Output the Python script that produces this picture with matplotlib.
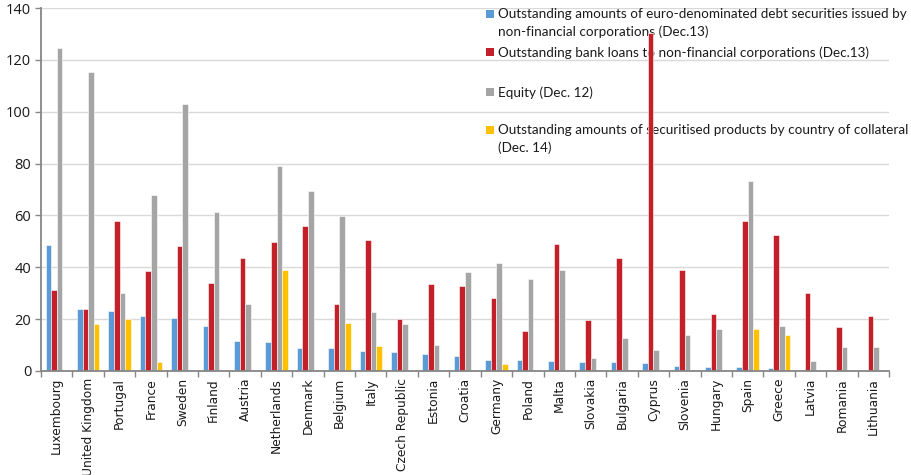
import matplotlib
matplotlib.use("Agg")
import matplotlib.pyplot as plt
import numpy as np
from matplotlib.patches import Rectangle

countries = ["Luxembourg", "United Kingdom", "Portugal", "France", "Sweden", "Finland",
             "Austria", "Netherlands", "Denmark", "Belgium", "Italy", "Czech Republic",
             "Estonia", "Croatia", "Germany", "Poland", "Malta", "Slovakia", "Bulgaria",
             "Cyprus", "Slovenia", "Hungary", "Spain", "Greece", "Latvia", "Romania",
             "Lithuania"]

debt_securities = [48.5, 23.8, 23.0, 21.4, 20.3, 17.5, 11.7, 11.3, 8.8, 8.8, 7.6, 7.2,
                   6.7, 5.8, 4.1, 4.1, 3.7, 3.3, 3.3, 3.0, 2.1, 1.7, 1.7, 1.2, 0.3, 0.3, 0.3]
bank_loans = [31.3, 23.8, 57.8, 38.5, 48.1, 33.8, 43.5, 49.7, 56.1, 26.0, 50.7, 20.1,
              33.5, 32.7, 28.1, 15.4, 48.9, 19.6, 43.5, 130.2, 38.9, 22.1, 57.8, 52.6,
              30.1, 17.1, 21.4]
equity = [124.7, 115.2, 30.1, 67.8, 103.0, 61.5, 26.0, 79.0, 69.5, 59.7, 22.9, 18.0,
          9.9, 38.1, 41.8, 35.5, 38.9, 4.9, 12.6, 8.0, 13.8, 16.3, 73.2, 17.5, 3.7, 9.1, 9.1]
securitised = [0, 18.0, 20.0, 3.3, 0, 0.4, 0.4, 38.9, 0, 18.4, 9.5, 0, 0, 0, 2.6, 0, 0,
               0, 0, 0, 0, 0, 16.3, 13.8, 0, 0, 0]

series_labels = [
    "Outstanding amounts of euro-denominated debt securities issued by\nnon-financial corporations (Dec.13)",
    "Outstanding bank loans to non-financial corporations (Dec.13)",
    "Equity (Dec. 12)",
    "Outstanding amounts of securitised products by country of collateral\n(Dec. 14)",
]
series_colors = ["#5b9bd5", "#c3202a", "#a5a5a5", "#ffc000"]
y_ticks = [0, 20, 40, 60, 80, 100, 120, 140]

W, H = 911, 475
fig = plt.figure(figsize=(W / 100, H / 100), dpi=100)
ax = fig.add_axes([41 / W, 1 - 371 / H, (889 - 41) / W, (371 - 8) / H])

axis_grey = "#868686"
x = np.arange(len(countries))
bw = 0.178
all_series = [debt_securities, bank_loans, equity, securitised]
for i, (vals, col) in enumerate(zip(all_series, series_colors)):
    ax.bar(x + (i - 1.5) * bw, vals, width=bw, color=col, edgecolor="white",
           linewidth=0.4, zorder=2)

ax.set_xlim(-0.5, len(countries) - 0.5)
ax.set_ylim(0, 140)
ax.set_yticks(y_ticks)
ax.yaxis.grid(True, color="#d9d9d9", linewidth=1.0, zorder=0)
ax.set_axisbelow(True)

for s in ["top", "right"]:
    ax.spines[s].set_visible(False)
for s in ["left", "bottom"]:
    ax.spines[s].set_color(axis_grey)
    ax.spines[s].set_linewidth(1.3)

ax.set_xticks(x)
ax.set_xticklabels(countries, rotation=90, fontsize=8.8, family="DejaVu Sans",
                   color="#1a1a1a", va="top", ha="center")
ax.set_xticks(np.arange(-0.5, len(countries)), minor=True)
ax.tick_params(axis="x", which="major", length=0, pad=5)
ax.tick_params(axis="x", which="minor", length=4, color=axis_grey, width=1)
ax.tick_params(axis="y", length=4, color=axis_grey, width=1, labelsize=10.5,
               labelcolor="#1a1a1a", pad=3)
for lab in ax.get_yticklabels():
    lab.set_family("Open Sans")

# Legend, drawn beneath the bars so tall bars pass over it
tf = fig.transFigure
entry_y = [14, 52, 92, 130]
for lab, col, yy in zip(series_labels, series_colors, entry_y):
    ax.add_patch(Rectangle((486 / W, 1 - (yy + 4) / H), 7.5 / W, 7.5 / H,
                           transform=tf, facecolor=col, edgecolor="none",
                           clip_on=False, zorder=1))
    ax.text(498 / W, 1 - (yy - 6) / H, lab, transform=tf, ha="left", va="top",
            fontsize=9.7, family="Lato", color="#1a1a1a", linespacing=1.55,
            clip_on=False, zorder=1)

fig.savefig("out.png", dpi=100)
